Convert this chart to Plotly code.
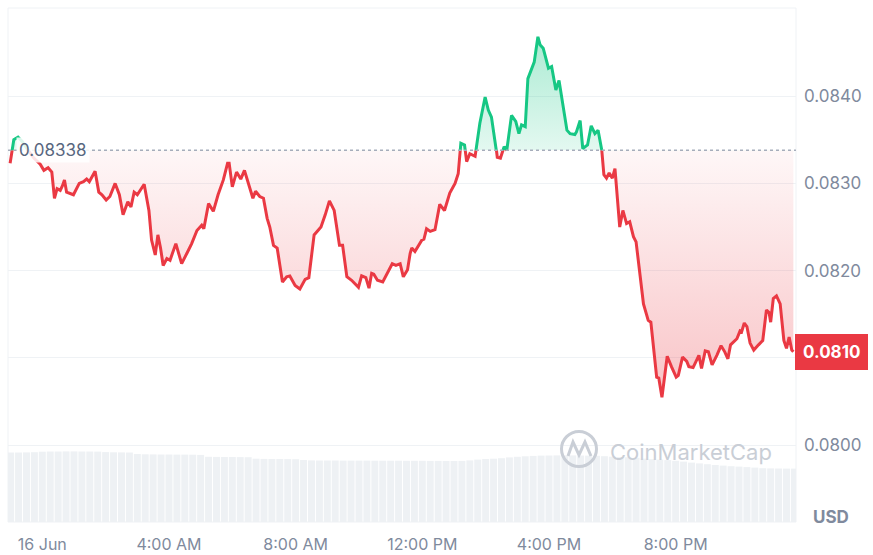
import datetime as dt
import math
import pandas as pd
import plotly.graph_objects as go

# ---------------- data ----------------
DAY = dt.datetime(2024, 6, 16)
baseline_price = 0.08338

# minutes relative to 16 Jun 00:00, and price (USD)
price_minutes = [
    -61, -57, -54, -46, -38, -27, -16, -4, 3, 11,
    18, 23, 28, 34, 38, 42, 46, 59, 70, 78,
    84, 89, 100, 107, 113, 121, 128, 138, 146, 153,
    162, 168, 174, 180, 193, 202, 207, 214, 219, 224,
    229, 236, 242, 253, 264, 274, 283, 293, 302, 306,
    315, 324, 333, 343, 351, 354, 360, 368, 376, 383,
    390, 399, 404, 412, 419, 426, 431, 438, 445, 455,
    463, 469, 479, 488, 498, 505, 515, 523, 528, 536,
    544, 553, 563, 569, 577, 586, 599, 605, 613, 619,
    624, 628, 635, 645, 654, 663, 670, 678, 684, 692,
    697, 700, 706, 719, 723, 728, 735, 744, 753, 762,
    772, 782, 788, 793, 800, 804, 810, 820, 829, 839,
    845, 851, 858, 862, 868, 875, 880, 889, 897, 903,
    908, 915, 920, 927, 932, 939, 943, 949, 959, 965,
    973, 979, 987, 994, 1000, 1009, 1012, 1019, 1024, 1033,
    1040, 1047, 1053, 1060, 1064, 1069, 1074, 1080, 1085, 1094,
    1100, 1107, 1113, 1120, 1125, 1139, 1148, 1153, 1164, 1168,
    1174, 1184, 1192, 1201, 1205, 1213, 1221, 1225, 1233, 1240,
    1244, 1249, 1256, 1262, 1269, 1278, 1286, 1293, 1299, 1304,
    1316, 1322, 1325, 1330, 1335, 1341, 1348, 1357, 1365, 1372,
    1377, 1380, 1385, 1391, 1398, 1405, 1410, 1415, 1420, 1423,
]
price_values = [
    0.08323, 0.08338, 0.08350, 0.08353, 0.08348, 0.08338, 0.08329, 0.08322, 0.08315, 0.08318,
    0.08313, 0.08283, 0.08294, 0.08292, 0.08297, 0.08304, 0.08290, 0.08287, 0.08300, 0.08302,
    0.08305, 0.08302, 0.08314, 0.08290, 0.08287, 0.08281, 0.08285, 0.08300, 0.08287, 0.08264,
    0.08279, 0.08273, 0.08290, 0.08287, 0.08299, 0.08269, 0.08235, 0.08218, 0.08241, 0.08226,
    0.08206, 0.08214, 0.08212, 0.08231, 0.08208, 0.08220, 0.08231, 0.08246, 0.08252, 0.08248,
    0.08277, 0.08268, 0.08287, 0.08304, 0.08323, 0.08323, 0.08296, 0.08313, 0.08305, 0.08315,
    0.08300, 0.08283, 0.08291, 0.08285, 0.08283, 0.08260, 0.08250, 0.08229, 0.08226, 0.08187,
    0.08193, 0.08194, 0.08183, 0.08179, 0.08190, 0.08192, 0.08241, 0.08247, 0.08250, 0.08264,
    0.08280, 0.08269, 0.08229, 0.08229, 0.08193, 0.08189, 0.08181, 0.08194, 0.08192, 0.08180,
    0.08197, 0.08196, 0.08189, 0.08187, 0.08197, 0.08208, 0.08206, 0.08208, 0.08193, 0.08201,
    0.08220, 0.08226, 0.08222, 0.08235, 0.08236, 0.08248, 0.08245, 0.08247, 0.08276, 0.08269,
    0.08289, 0.08300, 0.08311, 0.08346, 0.08344, 0.08325, 0.08334, 0.08331, 0.08369, 0.08399,
    0.08384, 0.08376, 0.08350, 0.08330, 0.08329, 0.08342, 0.08338, 0.08378, 0.08371, 0.08357,
    0.08367, 0.08365, 0.08420, 0.08432, 0.08439, 0.08468, 0.08459, 0.08455, 0.08432, 0.08434,
    0.08407, 0.08418, 0.08388, 0.08361, 0.08357, 0.08356, 0.08359, 0.08372, 0.08340, 0.08344,
    0.08366, 0.08357, 0.08361, 0.08338, 0.08310, 0.08306, 0.08312, 0.08306, 0.08317, 0.08250,
    0.08269, 0.08254, 0.08256, 0.08239, 0.08233, 0.08162, 0.08143, 0.08141, 0.08078, 0.08077,
    0.08055, 0.08102, 0.08090, 0.08078, 0.08080, 0.08101, 0.08096, 0.08090, 0.08089, 0.08099,
    0.08103, 0.08088, 0.08108, 0.08107, 0.08092, 0.08103, 0.08114, 0.08107, 0.08099, 0.08115,
    0.08122, 0.08131, 0.08130, 0.08140, 0.08136, 0.08117, 0.08109, 0.08115, 0.08120, 0.08155,
    0.08152, 0.08141, 0.08168, 0.08171, 0.08162, 0.08120, 0.08111, 0.08124, 0.08109, 0.08107,
]

# volume (arbitrary units, 15-minute bars starting 15 Jun 23:00)
volume_start = "2024-06-15 23:00"
volume_values = [
    6.95, 6.95, 6.96, 6.98, 7.03, 7.05, 7.05, 7.06, 7.06, 7.05,
    7.05, 7.04, 6.99, 6.97, 6.96, 6.95, 6.80, 6.77, 6.76, 6.75,
    6.75, 6.74, 6.74, 6.73, 6.71, 6.52, 6.51, 6.50, 6.50, 6.49,
    6.48, 6.33, 6.31, 6.30, 6.30, 6.29, 6.28, 6.20, 6.16, 6.15,
    6.15, 6.15, 6.14, 6.14, 6.14, 6.14, 6.13, 6.13, 6.13, 6.13,
    6.12, 6.12, 6.12, 6.11, 6.11, 6.10, 6.10, 6.11, 6.16, 6.24,
    6.30, 6.33, 6.38, 6.46, 6.52, 6.57, 6.61, 6.64, 6.65, 6.66,
    6.66, 6.66, 6.65, 6.64, 6.62, 6.58, 6.53, 6.50, 6.47, 6.42,
    6.34, 6.28, 6.24, 6.19, 6.12, 6.04, 5.94, 5.86, 5.78, 5.70,
    5.64, 5.58, 5.54, 5.49, 5.44, 5.38, 5.36, 5.35, 5.34, 5.34,
]

y_tick_values = [0.0800, 0.0810, 0.0820, 0.0830, 0.0840]
x_tick_times = ["2024-06-16 00:00", "2024-06-16 04:00", "2024-06-16 08:00",
                "2024-06-16 12:00", "2024-06-16 16:00", "2024-06-16 20:00"]
x_tick_labels = ["16 Jun", "4:00 AM", "8:00 AM", "12:00 PM", "4:00 PM", "8:00 PM"]

# ---------------- styling / layout constants ----------------
RED = "#ea3943"
GREEN = "#16c784"
GRID = "#eff2f5"
TICK = "#808a9d"
FONT = "Inter"

x_range = ["2024-06-15 22:55", "2024-06-16 23:48"]
y_range = [0.07912, 0.08501]
vol_range = [0, 51.4]

W, H = 873, 555
ML, MR, MT, MB = 8, 77, 8, 33
PW, PH = W - ML - MR, H - MT - MB

times = [DAY + dt.timedelta(minutes=m) for m in price_minutes]
vol_times = pd.date_range(volume_start, periods=len(volume_values), freq="15min")

frac = (baseline_price - y_range[0]) / (y_range[1] - y_range[0])
last_price = price_values[-1]
badge_text = f"{math.floor(last_price * 1e4) / 1e4:.4f}"
# the tick label hidden under the current-price badge is left blank (as in the reference)
y_tick_text = ["" if abs(v - last_price) < 0.0002 else f"{v:.4f}" for v in y_tick_values]

fig = go.Figure()

# volume bars
fig.add_trace(go.Bar(x=list(vol_times), y=volume_values, xaxis="x", yaxis="y",
                     marker=dict(color="#eef1f4", line=dict(width=0)),
                     hoverinfo="skip", showlegend=False))

# lower (below baseline) red part
fig.add_trace(go.Scatter(x=[times[0], times[-1]], y=[baseline_price, baseline_price],
                         yaxis="y3", mode="lines", line=dict(width=0),
                         hoverinfo="skip", showlegend=False))
fig.add_trace(go.Scatter(x=times, y=price_values, yaxis="y3", mode="lines",
                         line=dict(color=RED, width=3),
                         fill="tonexty",
                         fillgradient=dict(type="vertical",
                                           colorscale=[[0, "rgba(234,57,67,0.30)"],
                                                       [1, "rgba(234,57,67,0.04)"]],
                                           start=0.08055, stop=baseline_price),
                         hoverinfo="skip", showlegend=False))

# upper (above baseline) green part
fig.add_trace(go.Scatter(x=[times[0], times[-1]], y=[baseline_price, baseline_price],
                         yaxis="y4", mode="lines", line=dict(width=0),
                         hoverinfo="skip", showlegend=False))
fig.add_trace(go.Scatter(x=times, y=price_values, yaxis="y4", mode="lines",
                         line=dict(color=GREEN, width=3),
                         fill="tonexty",
                         fillgradient=dict(type="vertical",
                                           colorscale=[[0, "rgba(22,199,132,0.12)"],
                                                       [1, "rgba(22,199,132,0.36)"]],
                                           start=baseline_price, stop=0.08468),
                         hoverinfo="skip", showlegend=False))


def px(xp, yp):
    return (xp - ML) / PW, (H - MB - yp) / PH


shapes = [
    dict(type="rect", xref="paper", yref="paper", x0=0, x1=1, y0=0, y1=1,
         line=dict(color=GRID, width=1), layer="below"),
    dict(type="line", xref="paper", yref="y2", x0=0, x1=1,
         y0=baseline_price, y1=baseline_price,
         line=dict(color="#a6adbb", width=1.5, dash="dot"), layer="above"),
]
# watermark logo
cx0, cy0 = px(561.5, 466.5)
cx1, cy1 = px(596.5, 431.5)
shapes.append(dict(type="circle", xref="paper", yref="paper", x0=cx0, x1=cx1, y0=cy0, y1=cy1,
                   line=dict(color="#c9ced6", width=3), layer="above"))
pts = [px(568, 456), px(573, 442), px(579, 455), px(585, 442), px(591, 456)]
path = "M " + " L ".join(f"{a:.4f},{b:.4f}" for a, b in pts)
shapes.append(dict(type="path", xref="paper", yref="paper", path=path,
                   line=dict(color="#c9ced6", width=3), layer="above"))

annotations = [
    dict(xref="paper", yref="y2", x=px(16, 0)[0], y=baseline_price,
         xanchor="left", yanchor="middle", showarrow=False,
         text=f"{baseline_price:.5f}", font=dict(family=FONT, size=17, color="#58667e"),
         bgcolor="rgba(255,255,255,0.85)", borderpad=2),
    dict(xref="paper", yref="y2", x=px(795, 0)[0], y=last_price,
         xanchor="left", yanchor="middle", showarrow=False,
         text=f"<b>{badge_text}</b>", font=dict(family=FONT, size=17, color="white"),
         bgcolor=RED, bordercolor=RED, borderwidth=1, borderpad=7),
    dict(xref="paper", yref="paper", x=px(831, 0)[0], y=px(0, 517)[1],
         xanchor="center", yanchor="middle", showarrow=False,
         text="<b>USD</b>", font=dict(family=FONT, size=17, color=TICK)),
    dict(xref="paper", yref="paper", x=px(691, 0)[0], y=px(0, 452)[1],
         xanchor="center", yanchor="middle", showarrow=False,
         text="CoinMarketCap", font=dict(family=FONT, size=22, color="#c9ced6")),
]

fig.update_layout(
    width=W, height=H,
    margin=dict(l=ML, r=MR, t=MT, b=MB, autoexpand=False),
    paper_bgcolor="white", plot_bgcolor="rgba(0,0,0,0)",
    showlegend=False, bargap=0.12,
    font=dict(family=FONT),
    xaxis=dict(type="date", range=x_range, tickvals=x_tick_times, ticktext=x_tick_labels,
               showgrid=False, zeroline=False, showline=False, ticks="",
               tickfont=dict(family=FONT, size=16, color=TICK), ticklabelstandoff=11,
               anchor="y", automargin=False),
    yaxis=dict(domain=[0, 1], range=vol_range, visible=False, fixedrange=True),
    yaxis2=dict(domain=[0, 1], range=y_range, anchor="x", side="right",
                tickvals=y_tick_values, ticktext=y_tick_text,
                showgrid=True, gridcolor=GRID, gridwidth=1, zeroline=False,
                showline=False, ticks="", ticklabelstandoff=7, automargin=False,
                tickfont=dict(family=FONT, size=17, color=TICK)),
    yaxis3=dict(domain=[0, frac], range=[y_range[0], baseline_price], anchor="x",
                visible=False),
    yaxis4=dict(domain=[frac, 1], range=[baseline_price, y_range[1]], anchor="x",
                visible=False),
    shapes=shapes,
    annotations=annotations,
)

fig.write_html("out.html")
